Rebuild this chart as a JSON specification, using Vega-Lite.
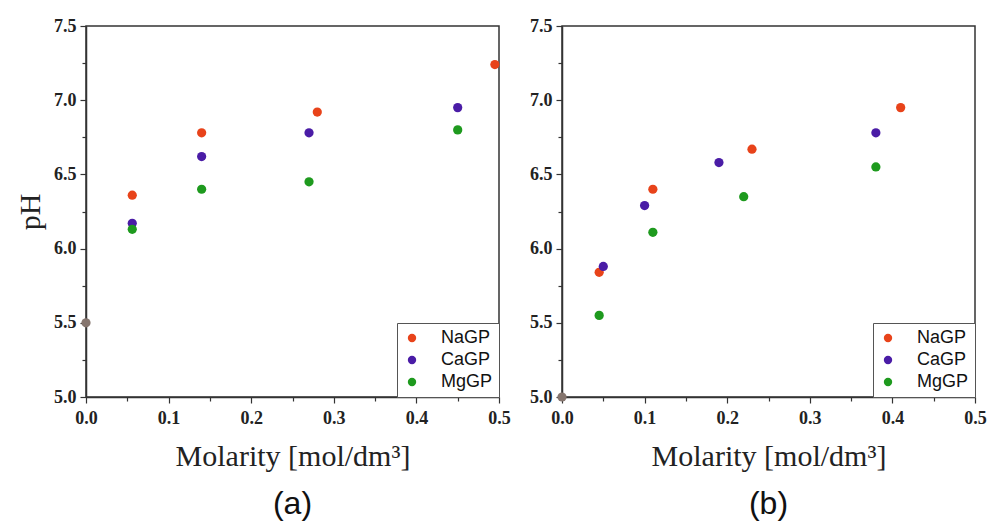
{
  "$schema": "https://vega.github.io/schema/vega-lite/v6.json",
  "background": "white",
  "padding": {"left": 14, "top": 16, "right": 0, "bottom": 2},
  "datasets": {
    "a": [
      {"salt": "NaGP", "m": 0.056, "ph": 6.36},
      {"salt": "NaGP", "m": 0.14, "ph": 6.78},
      {"salt": "NaGP", "m": 0.28, "ph": 6.92},
      {"salt": "NaGP", "m": 0.495, "ph": 7.24},
      {"salt": "CaGP", "m": 0.056, "ph": 6.17},
      {"salt": "CaGP", "m": 0.14, "ph": 6.62},
      {"salt": "CaGP", "m": 0.27, "ph": 6.78},
      {"salt": "CaGP", "m": 0.45, "ph": 6.95},
      {"salt": "MgGP", "m": 0.056, "ph": 6.13},
      {"salt": "MgGP", "m": 0.14, "ph": 6.4},
      {"salt": "MgGP", "m": 0.27, "ph": 6.45},
      {"salt": "MgGP", "m": 0.45, "ph": 6.8},
      {"salt": "water", "m": 0.0, "ph": 5.5}
    ],
    "b": [
      {"salt": "NaGP", "m": 0.045, "ph": 5.84},
      {"salt": "NaGP", "m": 0.11, "ph": 6.4},
      {"salt": "NaGP", "m": 0.23, "ph": 6.67},
      {"salt": "NaGP", "m": 0.41, "ph": 6.95},
      {"salt": "CaGP", "m": 0.05, "ph": 5.88},
      {"salt": "CaGP", "m": 0.1, "ph": 6.29},
      {"salt": "CaGP", "m": 0.19, "ph": 6.58},
      {"salt": "CaGP", "m": 0.38, "ph": 6.78},
      {"salt": "MgGP", "m": 0.045, "ph": 5.55},
      {"salt": "MgGP", "m": 0.11, "ph": 6.11},
      {"salt": "MgGP", "m": 0.22, "ph": 6.35},
      {"salt": "MgGP", "m": 0.38, "ph": 6.55},
      {"salt": "water", "m": 0.0, "ph": 5.0}
    ]
  },
  "hconcat": [
    {
      "width": 413,
      "height": 371,
      "data": {"name": "a"},
      "title": {"text": "(a)", "orient": "bottom", "offset": 18},
      "layer": [
        {
          "mark": {"type": "point", "filled": true, "size": 85, "opacity": 1},
          "encoding": {
            "x": {"field": "m", "type": "quantitative", "scale": {"domain": [0, 0.5], "nice": false, "zero": false},
              "axis": {"values": [0, 0.1, 0.2, 0.3, 0.4, 0.5], "format": ".1f", "title": "Molarity [mol/dm³]"}},
            "y": {"field": "ph", "type": "quantitative", "scale": {"domain": [5, 7.5], "nice": false, "zero": false},
              "axis": {"values": [5, 5.5, 6, 6.5, 7, 7.5], "format": ".1f", "title": "pH"}},
            "color": {"field": "salt", "type": "nominal",
              "scale": {"domain": ["NaGP", "CaGP", "MgGP", "water"], "range": ["#e8431a", "#4a1ca6", "#1e9a1e", "#85756e"]},
              "legend": {"title": null, "values": ["NaGP", "CaGP", "MgGP"]}}
          }
        },
        {
          "mark": {"type": "point", "opacity": 0},
          "encoding": {
            "x": {"field": "m", "type": "quantitative", "scale": {"domain": [0, 0.5], "nice": false, "zero": false},
              "axis": {"orient": "bottom", "values": [0.05, 0.15, 0.25, 0.35, 0.45], "labels": false, "title": null, "domain": false, "tickSize": 4}},
            "y": {"field": "ph", "type": "quantitative", "scale": {"domain": [5, 7.5], "nice": false, "zero": false},
              "axis": {"orient": "left", "values": [5.25, 5.75, 6.25, 6.75, 7.25], "labels": false, "title": null, "domain": false, "tickSize": 4}}
          }
        }
      ],
      "resolve": {"axis": {"x": "independent", "y": "independent"}}
    },
    {
      "width": 413,
      "height": 371,
      "data": {"name": "b"},
      "title": {"text": "(b)", "orient": "bottom", "offset": 18},
      "layer": [
        {
          "mark": {"type": "point", "filled": true, "size": 85, "opacity": 1},
          "encoding": {
            "x": {"field": "m", "type": "quantitative", "scale": {"domain": [0, 0.5], "nice": false, "zero": false},
              "axis": {"values": [0, 0.1, 0.2, 0.3, 0.4, 0.5], "format": ".1f", "title": "Molarity [mol/dm³]"}},
            "y": {"field": "ph", "type": "quantitative", "scale": {"domain": [5, 7.5], "nice": false, "zero": false},
              "axis": {"values": [5, 5.5, 6, 6.5, 7, 7.5], "format": ".1f", "title": null}},
            "color": {"field": "salt", "type": "nominal",
              "scale": {"domain": ["NaGP", "CaGP", "MgGP", "water"], "range": ["#e8431a", "#4a1ca6", "#1e9a1e", "#85756e"]},
              "legend": {"title": null, "values": ["NaGP", "CaGP", "MgGP"]}}
          }
        },
        {
          "mark": {"type": "point", "opacity": 0},
          "encoding": {
            "x": {"field": "m", "type": "quantitative", "scale": {"domain": [0, 0.5], "nice": false, "zero": false},
              "axis": {"orient": "bottom", "values": [0.05, 0.15, 0.25, 0.35, 0.45], "labels": false, "title": null, "domain": false, "tickSize": 4}},
            "y": {"field": "ph", "type": "quantitative", "scale": {"domain": [5, 7.5], "nice": false, "zero": false},
              "axis": {"orient": "left", "values": [5.25, 5.75, 6.25, 6.75, 7.25], "labels": false, "title": null, "domain": false, "tickSize": 4}}
          }
        }
      ],
      "resolve": {"axis": {"x": "independent", "y": "independent"}}
    }
  ],
  "spacing": 63,
  "bounds": "flush",
  "resolve": {"scale": {"color": "independent"}},
  "config": {
    "view": {"stroke": "#333", "strokeWidth": 1.5},
    "axis": {
      "labelFont": "Liberation Serif", "labelFontWeight": "bold", "labelFontSize": 18, "labelColor": "#222",
      "titleFont": "Liberation Serif", "titleFontWeight": "normal", "titleFontSize": 30, "titleColor": "#222",
      "domainColor": "#333", "domainWidth": 1.5, "tickColor": "#333", "tickWidth": 1.2, "tickSize": 6,
      "grid": false, "labelPadding": 4, "labelFlush": false
    },
    "axisX": {"labelPadding": 6, "titlePadding": 14},
    "axisY": {"titlePadding": 8},
    "title": {"font": "Liberation Sans", "fontSize": 32, "fontWeight": "normal", "color": "#111"},
    "legend": {
      "orient": "bottom-right", "offset": 0, "strokeColor": "#555", "fillColor": "white", "padding": 6,
      "labelFont": "Liberation Sans", "labelFontSize": 18, "labelColor": "#111", "symbolSize": 70, "symbolType": "circle",
      "labelOffset": 20, "rowPadding": 4, "cornerRadius": 0
    }
  }
}
